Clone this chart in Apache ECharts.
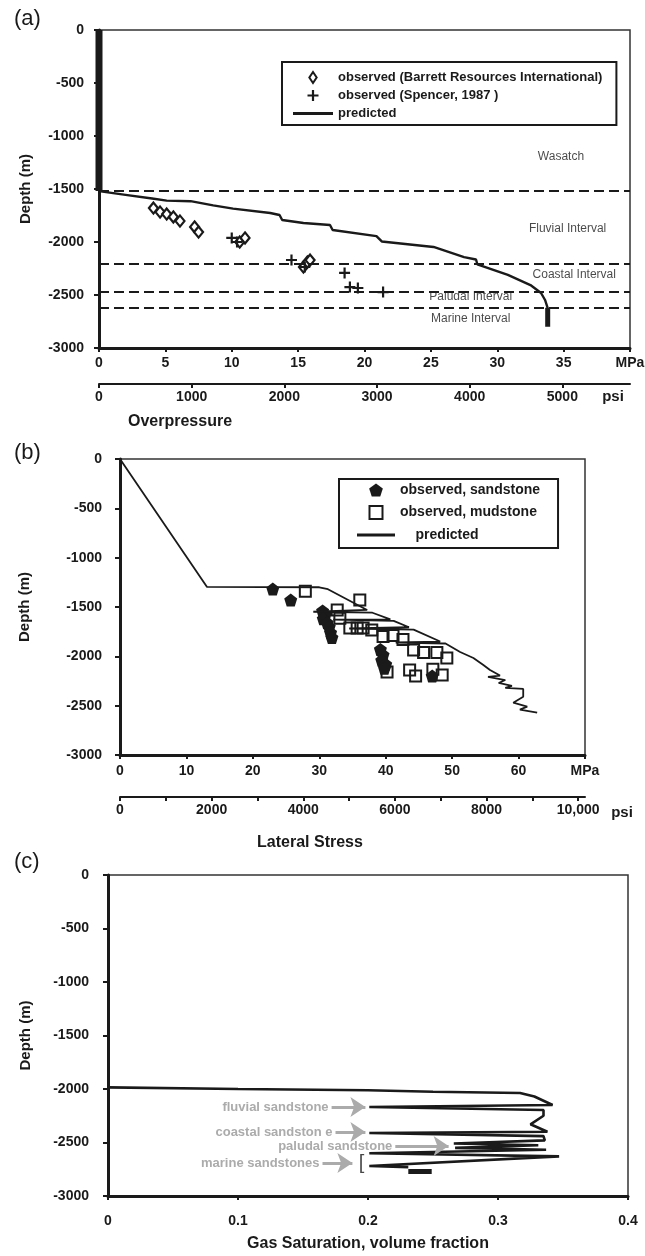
<!DOCTYPE html>
<html>
<head>
<meta charset="utf-8">
<title>Overpressure, lateral stress and gas saturation</title>
<script src="https://cdn.jsdelivr.net/npm/echarts@6.0.0/dist/echarts.min.js"></script>
<style>
html,body{margin:0;padding:0;background:#fff;}
#chart{width:645px;height:1256px;}
</style>
</head>
<body>
<div id="chart"></div>
<script>
// (a) overpressure [MPa, depth m]
var barrettObs = [[4.1,-1680],[4.6,-1717],[5.1,-1736],[5.6,-1764],[6.1,-1802],[7.2,-1858],[7.5,-1906],
	[10.6,-2000],[11.0,-1962],[15.4,-2236],[15.7,-2189],[15.9,-2170]];
var spencerObs = [[10.0,-1962],[10.4,-2000],[14.5,-2170],[15.5,-2236],[18.5,-2292],[18.9,-2425],[19.5,-2434],[21.4,-2472]];
var predA = [[0,-1520],[2,-1555],[4,-1590],[5.1,-1610],[6.9,-1615],[8.6,-1655],[10.1,-1685],[12.9,-1726],
	[13.6,-1745],[13.8,-1792],[15.4,-1821],[17.4,-1840],[17.6,-1887],[20.9,-1945],[21.3,-1995],[25.2,-2047],
	[27.5,-2142],[28.4,-2165],[28.5,-2210],[30.8,-2311],[32.5,-2406],[33.3,-2481],[33.6,-2547],[33.8,-2623]];
var predATop = [[0,0],[0,-1520]];
var predABase = [[33.8,-2620],[33.8,-2800]];
var intervalTops = [-1520,-2208,-2472,-2623];
var intervalNames = ['Wasatch','Fluvial Interval','Coastal Interval','Paludal Interval','Marine Interval'];
var intervalAt = [[34.8,-1198],[35.3,-1877],[35.8,-2311],[28.0,-2519],[28.0,-2726]];

// (b) lateral stress [MPa, depth m]
var sandObs = [[23.0,-1318],[25.7,-1429],[30.5,-1540],[30.9,-1580],[30.6,-1620],[31.2,-1660],[31.5,-1700],
	[31.7,-1760],[31.9,-1810],[39.2,-1930],[39.6,-1985],[39.4,-2040],[40.0,-2080],[39.8,-2120],[47.0,-2200]];
var mudObs = [[27.9,-1340],[36.1,-1429],[32.7,-1530],[33.1,-1615],[34.6,-1713],[35.7,-1713],[36.6,-1713],
	[37.9,-1733],[39.6,-1800],[41.1,-1790],[42.6,-1830],[44.2,-1936],[45.7,-1960],[47.7,-1960],[49.2,-2017],
	[43.6,-2138],[44.5,-2200],[47.1,-2130],[48.5,-2189],[40.2,-2160]];
var predB = [[0,0],[13.1,-1297],[30.0,-1300],[31.3,-1320],[37.2,-1530],[29.1,-1548],[38.0,-1558],[40.7,-1625],
	[32.1,-1628],[41.2,-1640],[43.5,-1705],[34.5,-1718],[44.2,-1730],[48.2,-1850],[41.5,-1860],[49.0,-1870],
	[51.2,-1956],[53.2,-2017],[54.7,-2088],[55.7,-2138],[57.2,-2195],[55.4,-2209],[58.0,-2240],[57.0,-2270],
	[59.0,-2300],[58.0,-2320],[60.7,-2330],[60.7,-2410],[59.2,-2470],[61.3,-2510],[60.2,-2540],[62.8,-2570]];

// (c) gas saturation [fraction, depth m]
var predC = [[0,-1985],[0.1,-2000],[0.2,-2012],[0.25,-2025],[0.317,-2037],[0.328,-2070],[0.342,-2150],
	[0.201,-2168],[0.335,-2196],[0.335,-2250],[0.325,-2330],[0.338,-2400],[0.201,-2411],[0.335,-2440],
	[0.336,-2480],[0.266,-2510],[0.331,-2525],[0.267,-2550],[0.337,-2568],[0.201,-2600],[0.347,-2630],
	[0.201,-2720],[0.231,-2730]];
var predCBar = [[0.231,-2770],[0.249,-2770]];
var sandNames = ['fluvial sandstone','coastal sandston e','paludal sandstone','marine sandstones'];
var arrowFrom = [[0.172,-2168],[0.175,-2402],[0.221,-2533],[0.165,-2692]];
var arrowTo = [[0.198,-2168],[0.198,-2402],[0.262,-2533],[0.188,-2692]];
var bracketAt = [0.195,-2692];

var FONT = '"Liberation Sans", Arial, Helvetica, sans-serif';
var INK = '#1a1a1a';
var GREY = '#ababab';
var DIAMOND = 'path://M5,0L9,6L5,12L1,6Z';
var PLUS = 'path://M4,0H6V4H10V6H6V10H4V6H0V4H4Z';
var PENTAGON = 'path://M5,0L10,3.6L8.1,9.5L1.9,9.5L0,3.6Z';
var SQUARE = 'path://M0,0H10V10H0Z';

function depthAxis(grid, gap, margin) {
	return {
		type: 'value', gridIndex: grid, min: -3000, max: 0, interval: 500,
		name: 'Depth (m)', nameLocation: 'middle', nameGap: gap, nameRotate: 90,
		nameTextStyle: {fontSize: 15, fontWeight: 'bold', color: INK},
		axisLine: {show: true, onZero: false, lineStyle: {color: INK, width: 3}},
		axisTick: {show: true, length: 5, lineStyle: {color: INK, width: 2}},
		axisLabel: {margin: margin, fontSize: 14, fontWeight: 'bold', color: INK,
			formatter: function (v) { return String(v); }},
		splitLine: {show: false}
	};
}

function xAxis(grid, max, step, margin, fmt) {
	return {
		type: 'value', gridIndex: grid, min: 0, max: max, interval: step, position: 'bottom',
		axisLine: {show: true, onZero: false, lineStyle: {color: INK, width: 3}},
		axisTick: {show: true, length: 4, lineStyle: {color: INK, width: 2}},
		axisLabel: {margin: margin, fontSize: 14, fontWeight: 'bold', color: INK, showMaxLabel: true,
			formatter: fmt || function (v) { return String(v); }},
		splitLine: {show: false}
	};
}

function psiAxis(grid, max, offset, fmt) {
	return {
		type: 'value', gridIndex: grid, min: 0, max: max, interval: 1000, position: 'bottom', offset: offset,
		axisLine: {show: true, onZero: false, lineStyle: {color: INK, width: 2}},
		axisTick: {show: true, length: 4, lineStyle: {color: INK, width: 2}},
		axisLabel: {margin: 6, fontSize: 14, fontWeight: 'bold', color: INK, showMaxLabel: false, formatter: fmt},
		splitLine: {show: false}
	};
}

var gridBox = {show: true, borderColor: '#333', borderWidth: 1.5, outerBoundsMode: 'none', containLabel: false};

var chart = echarts.init(document.getElementById('chart'));
var option = {
	animation: false,
	backgroundColor: '#fff',
	textStyle: {fontFamily: FONT},
	grid: [
		Object.assign({left: 99, top: 30, width: 531, height: 318}, gridBox),
		Object.assign({left: 120, top: 459, width: 465, height: 296}, gridBox),
		Object.assign({left: 108, top: 875, width: 520, height: 321}, gridBox)
	],
	xAxis: [
		xAxis(0, 40, 5, 8, function (v) { return v === 40 ? 'MPa' : String(v); }),
		psiAxis(0, 5730, 36, function (v) { return v % 1000 === 0 ? String(v) : ''; }),
		xAxis(1, 70, 10, 9, function (v) { return v === 70 ? 'MPa' : String(v); }),
		psiAxis(1, 10150, 42, function (v) { return v % 2000 === 0 ? (v === 10000 ? '10,000' : String(v)) : ''; }),
		Object.assign(xAxis(2, 0.4, 0.1, 18), {
			name: 'Gas Saturation, volume fraction', nameLocation: 'middle', nameGap: 40,
			nameTextStyle: {fontSize: 16, fontWeight: 'bold', color: INK}
		})
	],
	yAxis: [depthAxis(0, 66, 15), depthAxis(1, 88, 18), depthAxis(2, 75, 19)],
	legend: [{
		orient: 'vertical', left: 282, top: 62,
		data: [
			{name: 'observed (Barrett Resources International)', icon: DIAMOND},
			{name: 'observed (Spencer, 1987 )', icon: PLUS},
			{name: 'predicted', icon: 'path://M0,0H40V3H0Z'}
		],
		itemWidth: 40, itemHeight: 11, itemGap: 5,
		padding: [9, 14, 5, 11],
		borderColor: INK, borderWidth: 2, backgroundColor: '#fff',
		textStyle: {fontSize: 13, fontWeight: 'bold', color: INK}
	}, {
		orient: 'vertical', left: 339, top: 479,
		data: [
			{name: 'observed, sandstone', icon: PENTAGON},
			{name: 'observed, mudstone', icon: SQUARE},
			{name: 'predicted', icon: 'path://M0,0H38V3H0Z'}
		],
		formatter: function (n) { return n === 'predicted' ? '    predicted' : n; },
		itemWidth: 38, itemHeight: 13, itemGap: 8,
		padding: [4, 18, 6, 18],
		borderColor: INK, borderWidth: 2, backgroundColor: '#fff',
		textStyle: {fontSize: 14, fontWeight: 'bold', color: INK}
	}],
	graphic: [
		{type: 'text', left: 14, top: 8, style: {text: '(a)', fontSize: 22, fill: INK, fontFamily: FONT}},
		{type: 'text', left: 14, top: 442, style: {text: '(b)', fontSize: 22, fill: INK, fontFamily: FONT}},
		{type: 'text', left: 14, top: 851, style: {text: '(c)', fontSize: 22, fill: INK, fontFamily: FONT}},
		{type: 'text', x: 180, y: 422, style: {text: 'Overpressure', fontSize: 16, fontWeight: 'bold', fill: INK, fontFamily: FONT, align: 'center', verticalAlign: 'middle'}},
		{type: 'text', x: 310, y: 843, style: {text: 'Lateral Stress', fontSize: 16, fontWeight: 'bold', fill: INK, fontFamily: FONT, align: 'center', verticalAlign: 'middle'}},
		{type: 'text', x: 613, y: 397, style: {text: 'psi', fontSize: 15, fontWeight: 'bold', fill: INK, fontFamily: FONT, align: 'center', verticalAlign: 'middle'}},
		{type: 'text', x: 622, y: 813, style: {text: 'psi', fontSize: 15, fontWeight: 'bold', fill: INK, fontFamily: FONT, align: 'center', verticalAlign: 'middle'}}
	],
	series: [
		// panel (a)
		{
			name: 'predicted', type: 'line', xAxisIndex: 0, yAxisIndex: 0, data: predA,
			symbol: 'none', lineStyle: {color: INK, width: 2.4}, itemStyle: {color: INK},
			markLine: {
				silent: true, symbol: ['none', 'none'], label: {show: false},
				lineStyle: {color: INK, width: 2, type: [10, 5]},
				data: intervalTops.map(function (d) { return {yAxis: d}; })
			}
		},
		{name: 'predicted', type: 'line', xAxisIndex: 0, yAxisIndex: 0, data: predATop, clip: false,
			symbol: 'none', lineStyle: {color: INK, width: 7}},
		{name: 'predicted', type: 'line', xAxisIndex: 0, yAxisIndex: 0, data: predABase,
			symbol: 'none', lineStyle: {color: INK, width: 5}},
		{
			name: 'observed (Barrett Resources International)', type: 'scatter', xAxisIndex: 0, yAxisIndex: 0,
			data: barrettObs, symbol: 'diamond', symbolSize: [9, 11],
			itemStyle: {color: '#fff', borderColor: INK, borderWidth: 2.2, opacity: 1}
		},
		{
			name: 'observed (Spencer, 1987 )', type: 'scatter', xAxisIndex: 0, yAxisIndex: 0,
			data: spencerObs, symbol: PLUS, symbolSize: 11,
			itemStyle: {color: INK, opacity: 1}
		},
		{
			name: 'intervals', type: 'scatter', xAxisIndex: 0, yAxisIndex: 0, silent: true,
			symbolSize: 1, itemStyle: {color: 'rgba(0,0,0,0)'},
			label: {show: true, position: 'inside', formatter: '{b}', fontSize: 12, color: INK},
			data: intervalNames.map(function (n, i) { return {name: n, value: intervalAt[i]}; })
		},
		// panel (b)
		{name: 'predicted', type: 'line', xAxisIndex: 2, yAxisIndex: 1, data: predB,
			symbol: 'none', lineStyle: {color: INK, width: 1.8}, itemStyle: {color: INK}},
		{
			name: 'observed, mudstone', type: 'scatter', xAxisIndex: 2, yAxisIndex: 1,
			data: mudObs, symbol: 'rect', symbolSize: 11,
			itemStyle: {color: 'rgba(255,255,255,0)', borderColor: INK, borderWidth: 2, opacity: 1}
		},
		{
			name: 'observed, sandstone', type: 'scatter', xAxisIndex: 2, yAxisIndex: 1,
			data: sandObs, symbol: PENTAGON, symbolSize: 13,
			itemStyle: {color: INK, opacity: 1}
		},
		// panel (c)
		{
			name: 'gas saturation', type: 'line', xAxisIndex: 4, yAxisIndex: 2, data: predC,
			symbol: 'none', lineStyle: {color: INK, width: 2.6},
			markLine: {
				silent: true, symbol: ['none', 'arrow'], symbolSize: 15,
				lineStyle: {color: GREY, width: 3, type: 'solid'},
				label: {show: true, position: 'start', formatter: '{b}', fontSize: 13, fontWeight: 'bold', color: GREY, distance: 3},
				data: sandNames.map(function (n, i) {
					return [{name: n, coord: arrowFrom[i]}, {coord: arrowTo[i]}];
				})
			}
		},
		{name: 'gas saturation', type: 'line', xAxisIndex: 4, yAxisIndex: 2, data: predCBar,
			symbol: 'none', lineStyle: {color: INK, width: 5}},
		{
			name: 'bracket', type: 'scatter', xAxisIndex: 4, yAxisIndex: 2, silent: true,
			symbolSize: 1, itemStyle: {color: 'rgba(0,0,0,0)'},
			label: {show: true, position: 'inside', formatter: '[', fontSize: 20, color: INK},
			data: [bracketAt]
		}
	]
};
chart.setOption(option);
</script>
</body>
</html>
